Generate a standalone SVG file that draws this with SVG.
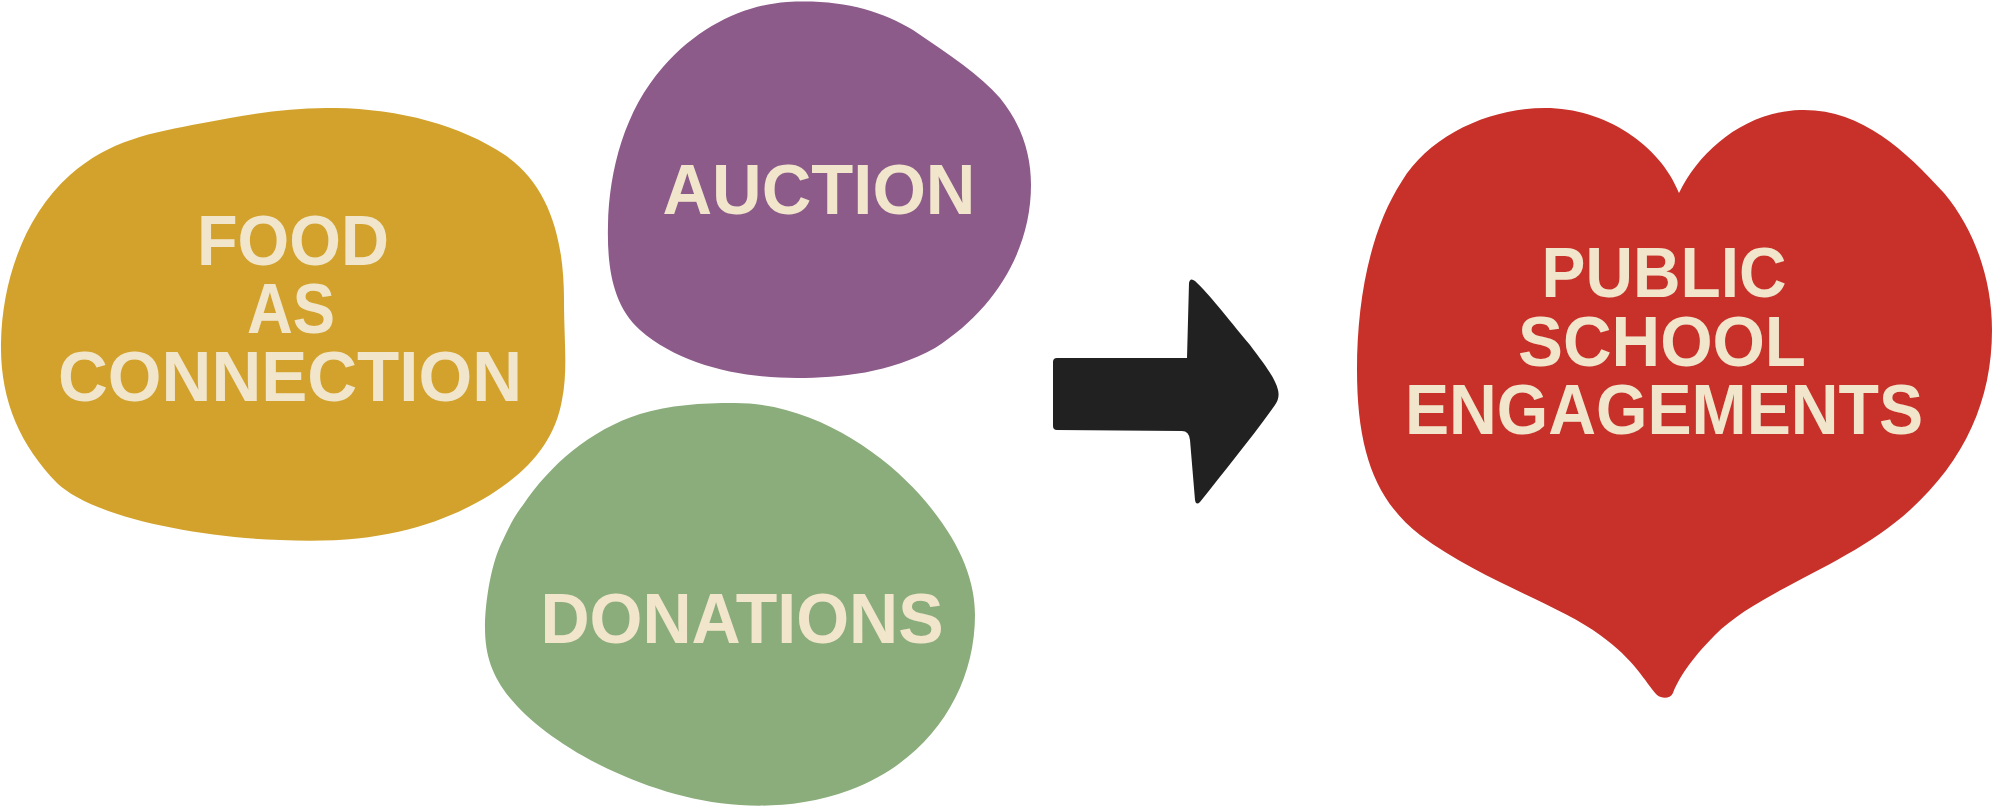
<svg xmlns="http://www.w3.org/2000/svg" width="1993" height="806" viewBox="0 0 1993 806">
<style>
.lbl{font-family:"Liberation Sans",Arial,Helvetica,sans-serif;font-weight:700;font-size:71px;fill:#F1E6CC;text-anchor:middle}
</style>
<rect x="0" y="0" width="1993" height="806" fill="#FFFFFF"/>
<g id="node-food">
<path fill="#D2A22C" d="M203,123 C250,114 290,107 335,108 C400,109 460,125 505,155 C550,186 564,240 564,300 C564,340 568,370 562,400 C555,440 530,470 490,495 C440,525 380,545 280,540 C190,537 90,515 57,483 C20,445 0,400 1,343 C2,280 25,215 70,175 C110,140 150,133 203,123 Z"/>
<text class="lbl"><tspan x="293" y="265" textLength="192" lengthAdjust="spacingAndGlyphs">FOOD</tspan><tspan x="291" y="333" textLength="88" lengthAdjust="spacingAndGlyphs">AS</tspan><tspan x="290" y="401" textLength="464" lengthAdjust="spacingAndGlyphs">CONNECTION</tspan></text>
</g>
<g id="node-auction">
<path fill="#8C5B8A" d="M787,2 C840,-1 880,10 913,30 C950,55 980,75 1000,98 C1022,125 1031,155 1031,185 C1031,250 995,310 935,348 C890,373 840,378 797,378 C740,378 680,365 640,330 C612,305 607,265 608,225 C609,170 625,110 663,67 C700,25 745,5 787,2 Z"/>
<text class="lbl" x="819" y="214" textLength="313" lengthAdjust="spacingAndGlyphs">AUCTION</text>
</g>
<g id="node-donations">
<path fill="#8BAD7B" d="M735,403 C810,403 880,450 920,495 C960,540 975,580 975,615 C975,690 930,760 850,790 C810,805 770,807 740,805 C690,802 640,785 600,765 C560,745 528,720 510,698 C492,676 485,655 485,628 C485,600 492,560 503,540 C510,525 515,515 523,505 C550,465 590,430 640,414 C670,405 700,403 735,403 Z"/>
<text class="lbl" x="742" y="643" textLength="403" lengthAdjust="spacingAndGlyphs">DONATIONS</text>
</g>
<g id="node-public-school">
<path fill="#C8312A" d="M1679,193 C1700,150 1745,112 1800,110 C1860,108 1905,150 1944,193 C1975,230 1992,280 1992,330 C1992,400 1965,460 1910,510 C1850,565 1760,590 1715,635 C1690,660 1678,680 1673,693 C1670,699 1662,699 1657,695 C1645,682 1635,660 1600,635 C1560,605 1480,580 1420,535 C1375,500 1357,450 1357,370 C1357,300 1370,230 1402,181 C1430,135 1490,108 1545,108 C1605,108 1660,145 1679,193 Z"/>
<text class="lbl"><tspan x="1664" y="297" textLength="245" lengthAdjust="spacingAndGlyphs">PUBLIC</tspan><tspan x="1662" y="366" textLength="288" lengthAdjust="spacingAndGlyphs">SCHOOL</tspan><tspan x="1664" y="434" textLength="518" lengthAdjust="spacingAndGlyphs">ENGAGEMENTS</tspan></text>
</g>
<g id="connectors">
<path id="arrow" fill="#222122" d="M1053,362 Q1053,358 1057,358 L1187,358 L1189,283 Q1190,277 1195,281 C1210,295 1225,315 1250,345 C1265,365 1275,378 1278,390 Q1280,398 1275,405 C1250,440 1225,470 1200,502 Q1196,506 1195,500 L1190,440 Q1189,431 1182,431 L1057,430 Q1053,430 1053,426 Z"/>
</g>
</svg>
